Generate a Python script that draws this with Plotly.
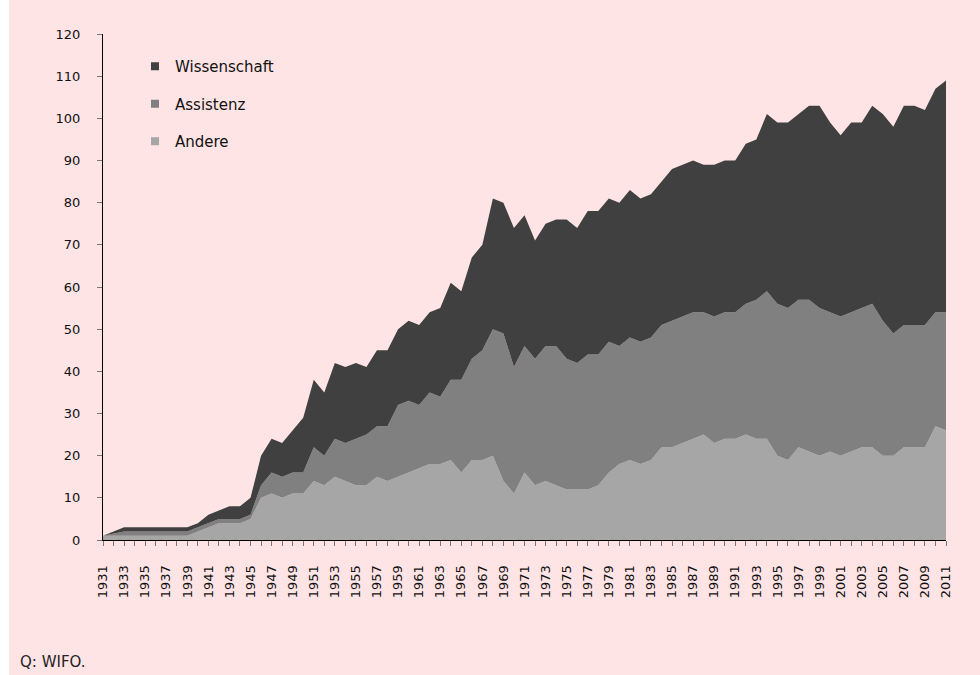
import plotly.graph_objects as go

years = list(range(1931, 2012))

andere = [1, 1, 1, 1, 1, 1, 1, 1, 1, 2,
          3, 4, 4, 4, 5, 10, 11, 10, 11, 11,
          14, 13, 15, 14, 13, 13, 15, 14, 15, 16,
          17, 18, 18, 19, 16, 19, 19, 20, 14, 11,
          16, 13, 14, 13, 12, 12, 12, 13, 16, 18,
          19, 18, 19, 22, 22, 23, 24, 25, 23, 24,
          24, 25, 24, 24, 20, 19, 22, 21, 20, 21,
          20, 21, 22, 22, 20, 20, 22, 22, 22, 27,
          26]
assistenz = [0, 0.5, 1, 1, 1, 1, 1, 1, 1, 1,
             1, 1, 1, 1, 1, 3, 5, 5, 5, 5,
             8, 7, 9, 9, 11, 12, 12, 13, 17, 17,
             15, 17, 16, 19, 22, 24, 26, 30, 35, 30,
             30, 30, 32, 33, 31, 30, 32, 31, 31, 28,
             29, 29, 29, 29, 30, 30, 30, 29, 30, 30,
             30, 31, 33, 35, 36, 36, 35, 36, 35, 33,
             33, 33, 33, 34, 32, 29, 29, 29, 29, 27,
             28]
wissenschaft = [0, 0.5, 1, 1, 1, 1, 1, 1, 1, 1,
                2, 2, 3, 3, 4, 7, 8, 8, 10, 13,
                16, 15, 18, 18, 18, 16, 18, 18, 18, 19,
                19, 19, 21, 23, 21, 24, 25, 31, 31, 33,
                31, 28, 29, 30, 33, 32, 34, 34, 34, 34,
                35, 34, 34, 34, 36, 36, 36, 35, 36, 36,
                36, 38, 38, 42, 43, 44, 44, 46, 48, 45,
                43, 45, 44, 47, 49, 49, 52, 52, 51, 53,
                55]

series = [("Andere", andere, "#A6A6A6"),
          ("Assistenz", assistenz, "#808080"),
          ("Wissenschaft", wissenschaft, "#404040")]

y_ticks = list(range(0, 121, 10))

PINK = "#FFE4E5"
FONT = "DejaVu Sans"

fig = go.Figure()
for name, vals, col in series:
    fig.add_trace(go.Scatter(
        x=years, y=vals, name=name, mode="lines", stackgroup="one",
        line=dict(width=0, color=col), fillcolor=col, showlegend=False,
        hoverinfo="x+y+name"))
# legend entries with square symbols (top layer first)
for i, (name, vals, col) in enumerate(reversed(series)):
    fig.add_trace(go.Scatter(
        x=[None], y=[None], name=name, mode="markers",
        marker=dict(symbol="square", size=8, color=col),
        legendgroup="g%d" % i, showlegend=True))

W, H = 980, 675
L, R, T, B = 103, 34, 34, 135
pw, ph = W - L - R, H - T - B


def px_x(p):
    return (p - L) / pw


def px_y(p):
    return (H - B - p) / ph


fig.add_shape(type="rect", xref="paper", yref="paper", layer="below",
              x0=px_x(9), x1=px_x(W + 5), y0=px_y(H + 5), y1=px_y(-5),
              fillcolor=PINK, line=dict(width=0))

fig.add_annotation(text="Q: WIFO.", xref="paper", yref="paper",
                   x=px_x(18), y=px_y(662), xanchor="left", yanchor="middle",
                   showarrow=False, font=dict(family=FONT, size=15, color="#222222"))

fig.update_layout(
    width=W, height=H,
    margin=dict(l=L, r=R, t=T, b=B, pad=0),
    paper_bgcolor="white",
    plot_bgcolor="rgba(0,0,0,0)",
    font=dict(family=FONT, size=13, color="#111111"),
    showlegend=True,
    legend=dict(x=px_x(135), y=px_y(50), xanchor="left", yanchor="top",
                traceorder="grouped", tracegroupgap=15,
                bgcolor="rgba(0,0,0,0)", font=dict(family=FONT, size=15, color="#111111"),
                itemwidth=30),
    xaxis=dict(range=[1931, 2011], tick0=1931, dtick=2, tickangle=-90,
               showgrid=False, zeroline=False, showline=True, linecolor="black",
               linewidth=1, ticks="outside", ticklen=5, tickcolor="#777777",
               ticklabelstandoff=14, tickfont=dict(family=FONT, size=13),
               minor=dict(dtick=1, tick0=1931, ticks="outside", ticklen=5,
                          tickcolor="#777777", showgrid=False)),
    yaxis=dict(range=[0, 120], tickvals=y_ticks, showgrid=False, zeroline=False,
               showline=True, linecolor="black", linewidth=1, ticks="outside",
               ticklen=5, tickcolor="#777777", ticklabelstandoff=14,
               tickfont=dict(family=FONT, size=13)),
)

fig.write_html("out.html", config={"displayModeBar": False},
               post_script="document.body.style.margin='0px';")
